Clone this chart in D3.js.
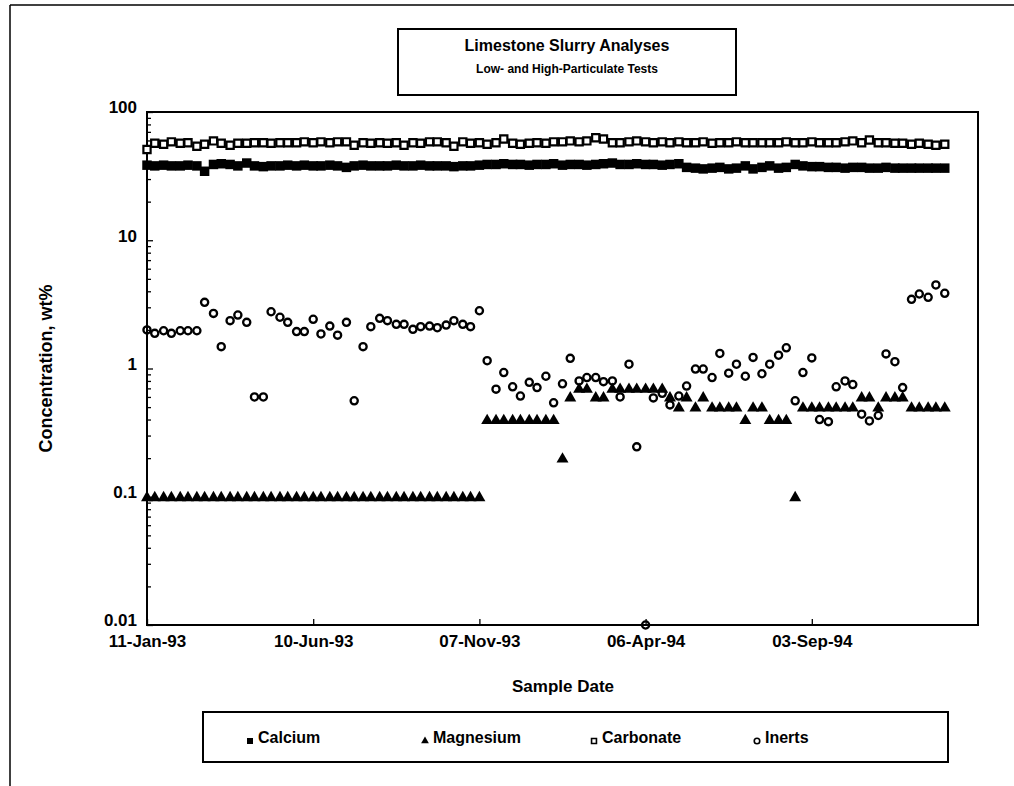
<!DOCTYPE html>
<html>
<head>
<meta charset="utf-8">
<script src="https://cdn.jsdelivr.net/npm/d3@7"></script>
<style>
body { margin: 0; background: #fff; }
text { font-family: "Liberation Sans", Arial, sans-serif; font-weight: bold; fill: #000; }
</style>
</head>
<body>
<div id="chart"></div>
<script>
var sampleDates = [
    "1993-01-11", "1993-01-18", "1993-01-26", "1993-02-02", "1993-02-10", "1993-02-17", "1993-02-25", "1993-03-04",
    "1993-03-12", "1993-03-19", "1993-03-27", "1993-04-03", "1993-04-11", "1993-04-18", "1993-04-26", "1993-05-03",
    "1993-05-11", "1993-05-18", "1993-05-26", "1993-06-02", "1993-06-10", "1993-06-17", "1993-06-25", "1993-07-02",
    "1993-07-10", "1993-07-17", "1993-07-25", "1993-08-01", "1993-08-09", "1993-08-16", "1993-08-24", "1993-08-31",
    "1993-09-08", "1993-09-15", "1993-09-23", "1993-09-30", "1993-10-08", "1993-10-15", "1993-10-23", "1993-10-30",
    "1993-11-07", "1993-11-14", "1993-11-22", "1993-11-29", "1993-12-07", "1993-12-14", "1993-12-22", "1993-12-29",
    "1994-01-06", "1994-01-13", "1994-01-21", "1994-01-28", "1994-02-05", "1994-02-12", "1994-02-20", "1994-02-27",
    "1994-03-07", "1994-03-14", "1994-03-22", "1994-03-29", "1994-04-06", "1994-04-13", "1994-04-21", "1994-04-28",
    "1994-05-06", "1994-05-13", "1994-05-21", "1994-05-28", "1994-06-05", "1994-06-12", "1994-06-20", "1994-06-27",
    "1994-07-05", "1994-07-12", "1994-07-20", "1994-07-27", "1994-08-04", "1994-08-11", "1994-08-19", "1994-08-26",
    "1994-09-03", "1994-09-10", "1994-09-18", "1994-09-25", "1994-10-03", "1994-10-10", "1994-10-18", "1994-10-25",
    "1994-11-02", "1994-11-09", "1994-11-17", "1994-11-24", "1994-12-02", "1994-12-09", "1994-12-17", "1994-12-24",
    "1995-01-01"
];

var calcium = [
    38.5, 38, 38.5, 38, 38, 38.5, 38, 34.5, 39, 39.5,
    39, 38, 40, 38, 37.5, 38, 38, 38.5, 38, 38.5,
    38, 38, 38.5, 38, 37, 38, 38.5, 38, 38, 38,
    38.5, 38, 38, 38.5, 38, 38, 38, 37.5, 38, 38,
    38.5, 39, 39, 39.5, 39, 39, 38.5, 39, 39, 39.5,
    38.5, 39, 39, 38.5, 39, 39.5, 40, 39, 39, 39.5,
    39, 39, 38.5, 39, 39.5, 37, 36.5, 36, 36.5, 37,
    36, 36.5, 38, 36, 37, 38, 36.5, 37, 39, 38,
    37.5, 37.5, 37, 37, 36.5, 37, 37, 36.5, 36.5, 37,
    36.5, 36.5, 36.5, 36.5, 36.5, 36.5, 36.5
];

var magnesium = [
    0.1, 0.1, 0.1, 0.1, 0.1, 0.1, 0.1, 0.1, 0.1, 0.1,
    0.1, 0.1, 0.1, 0.1, 0.1, 0.1, 0.1, 0.1, 0.1, 0.1,
    0.1, 0.1, 0.1, 0.1, 0.1, 0.1, 0.1, 0.1, 0.1, 0.1,
    0.1, 0.1, 0.1, 0.1, 0.1, 0.1, 0.1, 0.1, 0.1, 0.1,
    0.1, 0.4, 0.4, 0.4, 0.4, 0.4, 0.4, 0.4, 0.4, 0.4,
    0.2, 0.6, 0.7, 0.7, 0.6, 0.6, 0.7, 0.7, 0.7, 0.7,
    0.7, 0.7, 0.7, 0.6, 0.5, 0.6, 0.5, 0.6, 0.5, 0.5,
    0.5, 0.5, 0.4, 0.5, 0.5, 0.4, 0.4, 0.4, 0.1, 0.5,
    0.5, 0.5, 0.5, 0.5, 0.5, 0.5, 0.6, 0.6, 0.5, 0.6,
    0.6, 0.6, 0.5, 0.5, 0.5, 0.5, 0.5
];

var carbonate = [
    51, 57, 56, 58.5, 57, 57.5, 54, 56, 59.5, 57,
    55, 57, 57, 57.5, 57.5, 57, 57.5, 57.5, 57.5, 58.5,
    57.5, 58.5, 57.5, 58.5, 58.5, 55, 57.5, 57, 57.5, 57,
    57.5, 55, 57.5, 57, 58.5, 58.5, 57.5, 54, 58.5, 57,
    57.5, 56, 57.5, 61.5, 57, 56, 57, 57.5, 57, 58.5,
    58.5, 59.5, 58.5, 59.5, 63, 61.5, 57.5, 57.5, 58.5, 59.5,
    58.5, 57.5, 58.5, 57.5, 58.5, 57.5, 57.5, 58.5, 57, 57.5,
    57.5, 58.5, 57.5, 57.5, 57.5, 57.5, 57.5, 58.5, 57.5, 57.5,
    58.5, 57.5, 57.5, 57.5, 58.5, 59.5, 57.5, 60.5, 57.5, 57.5,
    57, 57, 56, 57, 56, 55, 56
];

var inerts = [
    2.0, 1.88, 1.97, 1.88, 1.97, 1.97, 1.97, 3.28, 2.69, 1.48,
    2.36, 2.61, 2.29, 0.6, 0.6, 2.77, 2.51, 2.29, 1.94, 1.94,
    2.42, 1.86, 2.14, 1.82, 2.29, 0.56, 1.48, 2.12, 2.46, 2.36,
    2.21, 2.21, 2.02, 2.12, 2.14, 2.08, 2.18, 2.36, 2.21, 2.12,
    2.82, 1.15, 0.69, 0.93, 0.72, 0.61, 0.78, 0.71, 0.87, 0.54,
    0.76, 1.2, 0.8, 0.85, 0.85, 0.79, 0.8, 0.6, 1.08, 0.245,
    0.01, 0.59, 0.64, 0.52, 0.61, 0.73, 0.99, 0.99, 0.85, 1.31,
    0.92, 1.08, 0.87, 1.22, 0.91, 1.08, 1.27, 1.45, 0.56, 0.93,
    1.21, 0.4, 0.385, 0.72, 0.8, 0.75, 0.44, 0.39, 0.43, 1.3,
    1.13, 0.71, 3.46, 3.81, 3.59, 4.48, 3.86
];

var seriesNames = ["Calcium", "Magnesium", "Carbonate", "Inerts"];
var yTickValues = [100, 10, 1, 0.1, 0.01];
var yTickLabels = ["100", "10", "1", "0.1", "0.01"];
var xTickDates = ["1993-01-11", "1993-06-10", "1993-11-07", "1994-04-06", "1994-09-03"];
var xTickLabels = ["11-Jan-93", "10-Jun-93", "07-Nov-93", "06-Apr-94", "03-Sep-94"];

var width = 1014;
var height = 786;
var plot = {left: 147, right: 978, top: 112, bottom: 625};

var parseDate = d3.timeParse("%Y-%m-%d");
var dates = sampleDates.map(parseDate);

var svg = d3.select("#chart")
    .append("svg")
    .attr("width", width)
    .attr("height", height);

// outer border (scanned page frame)
svg.append("line").attr("x1", 10).attr("y1", 5).attr("x2", 1014).attr("y2", 5)
    .attr("stroke", "#000").attr("stroke-width", 1.5);
svg.append("line").attr("x1", 10).attr("y1", 5).attr("x2", 10).attr("y2", 786)
    .attr("stroke", "#000").attr("stroke-width", 1.5);

var x = d3.scaleTime()
    .domain([parseDate("1993-01-11"), parseDate("1995-01-31")])
    .range([plot.left, plot.right]);

var y = d3.scaleLog()
    .domain([0.01, 100])
    .range([plot.bottom, plot.top]);

// title box
svg.append("rect")
    .attr("x", 398).attr("y", 29)
    .attr("width", 338).attr("height", 66)
    .attr("fill", "none").attr("stroke", "#000").attr("stroke-width", 2);
svg.append("text")
    .attr("x", 567).attr("y", 51)
    .attr("text-anchor", "middle")
    .attr("font-size", "16px")
    .text("Limestone Slurry Analyses");
svg.append("text")
    .attr("x", 567).attr("y", 73)
    .attr("text-anchor", "middle")
    .attr("font-size", "12px")
    .text("Low- and High-Particulate Tests");

// minor ticks on the log axis
var minorTicks = [];
[0.01, 0.1, 1, 10].forEach(function(d) {
    for (var k = 2; k <= 9; k++) minorTicks.push(d * k);
});

svg.append("g")
    .attr("transform", "translate(" + plot.left + ",0)")
    .call(d3.axisLeft(y).tickValues(minorTicks).tickSize(-4).tickFormat(""))
    .call(function(g) { g.select(".domain").remove(); })
    .selectAll("line").attr("stroke-width", 1.3);

var yAxis = svg.append("g")
    .attr("transform", "translate(" + plot.left + ",0)")
    .call(d3.axisLeft(y)
        .tickValues(yTickValues)
        .tickSize(-6)
        .tickPadding(10)
        .tickFormat(function(d, i) { return yTickLabels[i]; }));
yAxis.select(".domain").remove();
yAxis.selectAll("line").attr("stroke-width", 1.3);
yAxis.selectAll("text")
    .attr("font-size", "17px")
    .attr("font-family", "Liberation Sans, Arial, sans-serif")
    .attr("font-weight", "bold")
    .attr("dy", "0.05em");

var xAxis = svg.append("g")
    .attr("transform", "translate(0," + plot.bottom + ")")
    .call(d3.axisBottom(x)
        .tickValues(xTickDates.map(parseDate))
        .tickSize(-6)
        .tickPadding(10)
        .tickFormat(function(d, i) { return xTickLabels[i]; }));
xAxis.select(".domain").remove();
xAxis.selectAll("line").attr("stroke-width", 1.3);
xAxis.selectAll("text")
    .attr("font-size", "17px")
    .attr("font-family", "Liberation Sans, Arial, sans-serif")
    .attr("font-weight", "bold");

// plot frame
svg.append("rect")
    .attr("x", plot.left).attr("y", plot.top)
    .attr("width", plot.right - plot.left)
    .attr("height", plot.bottom - plot.top)
    .attr("fill", "none").attr("stroke", "#000").attr("stroke-width", 2);

// axis titles
svg.append("text")
    .attr("transform", "translate(52," + ((plot.top + plot.bottom) / 2) + ") rotate(-90)")
    .attr("text-anchor", "middle")
    .attr("font-size", "18px")
    .text("Concentration, wt%");
svg.append("text")
    .attr("x", 563).attr("y", 692)
    .attr("text-anchor", "middle")
    .attr("font-size", "17px")
    .text("Sample Date");

// markers
var squareSym = d3.symbol().type(d3.symbolSquare).size(90);
var hollowSquareSym = d3.symbol().type(d3.symbolSquare).size(52);
var triangleSym = d3.symbol().type(d3.symbolTriangle).size(62);

function pts(values) {
    return values.map(function(v, i) { return {date: dates[i], value: v}; })
        .filter(function(d) { return d.value != null; });
}

svg.append("g").selectAll("path")
    .data(pts(calcium))
    .enter()
    .append("path")
    .attr("d", squareSym)
    .attr("transform", function(d) { return "translate(" + x(d.date) + "," + y(d.value) + ")"; })
    .attr("fill", "#000");

svg.append("g").selectAll("path")
    .data(pts(magnesium))
    .enter()
    .append("path")
    .attr("d", triangleSym)
    .attr("transform", function(d) { return "translate(" + x(d.date) + "," + (y(d.value) + 1) + ")"; })
    .attr("fill", "#000");

svg.append("g").selectAll("path")
    .data(pts(carbonate))
    .enter()
    .append("path")
    .attr("d", hollowSquareSym)
    .attr("transform", function(d) { return "translate(" + x(d.date) + "," + y(d.value) + ")"; })
    .attr("fill", "#fff")
    .attr("stroke", "#000")
    .attr("stroke-width", 2.2);

svg.append("g").selectAll("circle")
    .data(pts(inerts))
    .enter()
    .append("circle")
    .attr("cx", function(d) { return x(d.date); })
    .attr("cy", function(d) { return y(d.value); })
    .attr("r", 3.6)
    .attr("fill", "none")
    .attr("stroke", "#000")
    .attr("stroke-width", 2.3);

// legend
var legend = svg.append("g");
legend.append("rect")
    .attr("x", 203).attr("y", 712)
    .attr("width", 745).attr("height", 50)
    .attr("fill", "none").attr("stroke", "#000").attr("stroke-width", 2);

var legendX = [250, 425, 594, 757];
var legendItems = legend.selectAll("g.item")
    .data(seriesNames)
    .enter()
    .append("g")
    .attr("class", "item")
    .attr("transform", function(d, i) { return "translate(" + legendX[i] + ",741)"; });

legendItems.append("path")
    .attr("d", function(d, i) {
        if (i === 0) return d3.symbol().type(d3.symbolSquare).size(36)();
        if (i === 1) return d3.symbol().type(d3.symbolTriangle).size(26)();
        if (i === 2) return d3.symbol().type(d3.symbolSquare).size(24)();
        return d3.symbol().type(d3.symbolCircle).size(24)();
    })
    .attr("fill", function(d, i) { return i < 2 ? "#000" : "#fff"; })
    .attr("stroke", "#000")
    .attr("stroke-width", function(d, i) { return i < 2 ? 0 : 1.6; });

legendItems.append("text")
    .attr("x", 8)
    .attr("y", 2)
    .attr("font-size", "16px")
    .text(function(d) { return d; });
</script>
</body>
</html>
